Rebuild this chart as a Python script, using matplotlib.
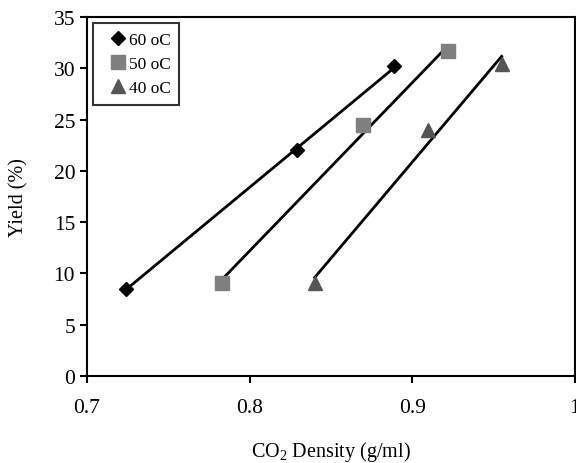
import numpy as np
import matplotlib
matplotlib.use('Agg')
import matplotlib.pyplot as plt
from matplotlib import rcParams

rcParams['font.family'] = 'serif'
rcParams['font.serif'] = ['Liberation Serif', 'DejaVu Serif']
rcParams['mathtext.fontset'] = 'custom'
rcParams['mathtext.rm'] = 'Liberation Serif'
rcParams['font.size'] = 14

# data
labels = ['60 oC', '50 oC', '40 oC']
density_60 = [0.724, 0.829, 0.889]
yield_60 = [8.5, 22.0, 30.2]
density_50 = [0.783, 0.870, 0.922]
yield_50 = [9.1, 24.5, 31.7]
density_40 = [0.840, 0.910, 0.955]
yield_40 = [9.1, 24.0, 30.4]

series = [
    (density_60, yield_60, 'D', 'black', 7.5),
    (density_50, yield_50, 's', '#7f7f7f', 9.5),
    (density_40, yield_40, '^', '#555555', 10.5),
]

fig = plt.figure(figsize=(5.76, 4.64), dpi=100, facecolor='white')
ax = fig.add_axes([0.151, 0.1875, 0.847, 0.7735])

for (x, y, m, c, s), lab in zip(series, labels):
    x = np.array(x)
    y = np.array(y)
    ax.plot(x, y, linestyle='none', marker=m, color=c, markersize=s, label=lab, zorder=3)
    k, b = np.polyfit(x, y, 1)
    xs = np.array([x.min(), x.max()])
    ax.plot(xs, k * xs + b, color='black', linewidth=2, zorder=2)

ax.set_xlim(0.7, 1.0)
ax.set_ylim(0, 35)
ax.set_xticks([0.7, 0.8, 0.9, 1.0])
ax.set_xticklabels(['0.7', '0.8', '0.9', '1'])
ax.set_yticks(range(0, 36, 5))
ax.tick_params(direction='out', length=5, width=1.5, labelsize=15.5)
ax.tick_params(axis='x', pad=11)
for sp in ax.spines.values():
    sp.set_linewidth(1.5)

ax.set_xlabel('CO$_2$ Density (g/ml)', fontsize=14.5, labelpad=16)
ax.set_ylabel('Yield (%)', fontsize=14.5, labelpad=18)

leg = ax.legend(loc='upper left', frameon=True, fancybox=False, fontsize=12.5,
                handletextpad=-0.35, handlelength=1.9, borderpad=0.5,
                labelspacing=0.45, bbox_to_anchor=(0.0, 1.0), borderaxespad=0.35)
leg.get_frame().set_edgecolor('black')
leg.get_frame().set_linewidth(1.5)

plt.savefig('out.png', dpi=100, facecolor='white')
